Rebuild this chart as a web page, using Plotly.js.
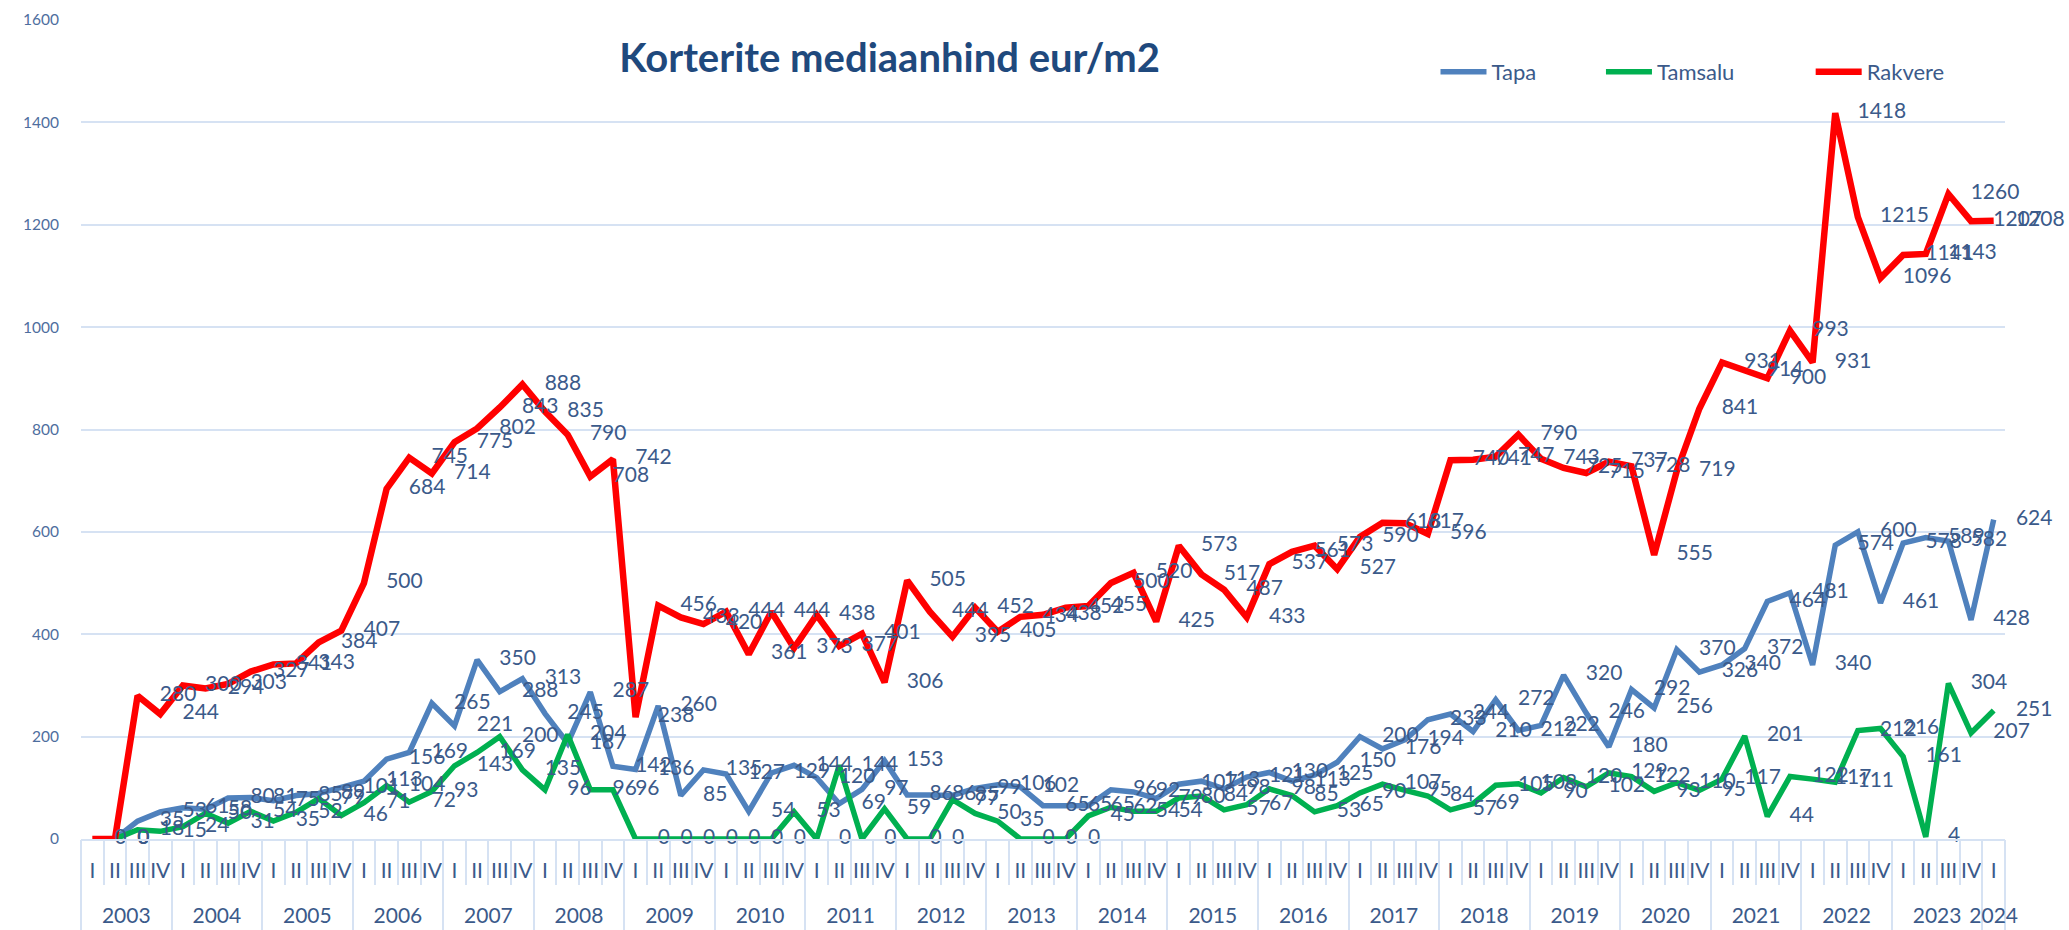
<!DOCTYPE html>
<html>
<head>
<meta charset="utf-8">
<script src="https://cdn.plot.ly/plotly-3.0.1.min.js"></script>
<style>
html, body { margin: 0; padding: 0; background: #ffffff; }
#chart { width: 2069px; height: 930px; }
</style>
</head>
<body>
<div id="chart"></div>
<script>
const years = ['2003','2004','2005','2006','2007','2008','2009','2010','2011','2012','2013','2014','2015','2016','2017','2018','2019','2020','2021','2022','2023','2024'];
const quarterNames = ['I','II','III','IV'];
const seriesNames = ['Tapa','Tamsalu','Rakvere'];

const tapa = [null,0,35,53,61,58,80,81,75,85,89,101,113,156,169,265,221,350,288,313,245,187,287,142,136,260,85,135,127,54,129,144,120,69,97,153,86,86,85,99,106,102,65,65,65,96,92,79,107,113,98,121,130,113,125,150,200,176,194,233,244,210,272,212,222,320,246,180,292,256,370,326,340,372,464,481,340,574,600,461,578,589,582,428,624];
const tamsalu = [null,0,18,15,24,50,31,54,35,52,79,46,71,104,72,93,143,169,200,135,96,204,96,96,0,0,0,0,0,0,0,53,0,144,0,59,0,0,77,50,35,0,0,0,45,62,54,54,80,84,57,67,98,85,53,65,90,107,95,84,57,69,105,108,90,120,102,129,122,93,110,95,117,201,44,122,117,111,212,216,161,4,304,207,251];
const rakvere = [0,0,280,244,300,294,303,327,341,343,384,407,500,684,745,714,775,802,843,888,835,790,708,742,238,456,433,420,444,361,444,373,438,377,401,306,505,444,395,452,405,434,438,452,455,500,520,425,573,517,487,433,537,561,573,527,590,618,617,596,740,741,747,790,743,725,715,737,728,555,719,841,931,914,900,993,931,1418,1215,1096,1141,1143,1260,1207,1208];

const labelColor = '#3B5A8A';
const axisTextColor = '#3B5A8A';
const gridColor = '#D6E2F3';
const fontFamily = 'Lato, "Open Sans", sans-serif';
const colors = ['#4F81BD', '#00B050', '#FF0000'];
const widths = [5.5, 5.5, 6.5];

const n = rakvere.length;
const xIdx = [], qText = [], yearCenters = [], yearBounds = [-0.5];
let k = 0;
years.forEach(function (y) {
  const start = k;
  quarterNames.forEach(function (q) {
    if (k < n) { xIdx.push(k); qText.push(q); k++; }
  });
  yearCenters.push((start + k - 1) / 2);
  yearBounds.push(k - 0.5);
});
const qBounds = xIdx.map(function (i) { return i - 0.5; }).concat([n - 0.5]);

const seriesData = [tapa, tamsalu, rakvere];
const legendIds = ['legend', 'legend2', 'legend3'];
const traces = [];
seriesData.forEach(function (vals, s) {
  traces.push({
    type: 'scatter', mode: 'lines', name: seriesNames[s],
    x: xIdx, y: vals, connectgaps: false,
    line: { color: colors[s], width: widths[s] },
    legend: legendIds[s], hoverinfo: 'skip'
  });
});
seriesData.forEach(function (vals, s) {
  traces.push({
    type: 'scatter', mode: 'markers+text', name: seriesNames[s] + ' labels',
    x: xIdx, y: vals, xaxis: 'x2', showlegend: false,
    text: vals.map(function (v) { return v === null ? '' : String(v); }),
    textposition: 'middle right',
    textfont: { family: fontFamily, size: 21, color: labelColor },
    marker: { size: 34, color: 'rgba(0,0,0,0)', line: { width: 0 } },
    cliponaxis: false, hoverinfo: 'skip'
  });
});

const tickFont = { family: fontFamily, size: 21, color: axisTextColor };
const legendBase = {
  orientation: 'h', xref: 'paper', yref: 'paper', xanchor: 'left', yanchor: 'middle',
  y: 0.9365, bgcolor: 'rgba(0,0,0,0)', borderwidth: 0, itemwidth: 46,
  font: { family: fontFamily, size: 22, color: axisTextColor }
};

const layout = {
  width: 2069, height: 930,
  margin: { l: 81, r: 64, t: 20, b: 91, pad: 0 },
  paper_bgcolor: '#ffffff', plot_bgcolor: '#ffffff',
  font: { family: fontFamily, size: 20, color: axisTextColor },
  showlegend: true,
  title: {
    text: 'Korterite mediaanhind eur/m2',
    font: { family: fontFamily, size: 40, color: '#1F497D', weight: 700 },
    xref: 'container', yref: 'container', x: 0.43, xanchor: 'center', y: 0.9376, yanchor: 'middle'
  },
  xaxis: {
    range: [-0.5, n - 0.5], tickmode: 'array', tickvals: xIdx, ticktext: qText,
    ticks: '', showgrid: false, zeroline: false, showline: true, linecolor: gridColor, linewidth: 2,
    tickfont: tickFont, ticklabelstandoff: 12, fixedrange: true,
    minor: { tickmode: 'array', tickvals: qBounds, ticks: 'outside', ticklen: 44, tickwidth: 2, tickcolor: gridColor, showgrid: false }
  },
  xaxis2: {
    overlaying: 'x', anchor: 'y', side: 'bottom', range: [-0.5, n - 0.5],
    tickmode: 'array', tickvals: yearCenters, ticktext: years,
    ticks: '', showgrid: false, zeroline: false, showline: false,
    tickfont: tickFont, ticklabelstandoff: 62, fixedrange: true,
    minor: { tickmode: 'array', tickvals: yearBounds, ticks: 'outside', ticklen: 91, tickwidth: 2, tickcolor: gridColor, showgrid: false }
  },
  yaxis: {
    range: [0, 1600], tick0: 0, dtick: 200, showgrid: true, gridcolor: gridColor, gridwidth: 2,
    zeroline: false, showline: false, ticks: '', tickfont: { family: fontFamily, size: 15.5, color: '#4E6E9E' },
    ticklabelstandoff: 21, fixedrange: true
  },
  legend: Object.assign({}, legendBase, { x: 0.704 }),
  legend2: Object.assign({}, legendBase, { x: 0.790 }),
  legend3: Object.assign({}, legendBase, { x: 0.899 })
};

Plotly.newPlot('chart', traces, layout, { staticPlot: true, displayModeBar: false });
</script>
</body>
</html>
